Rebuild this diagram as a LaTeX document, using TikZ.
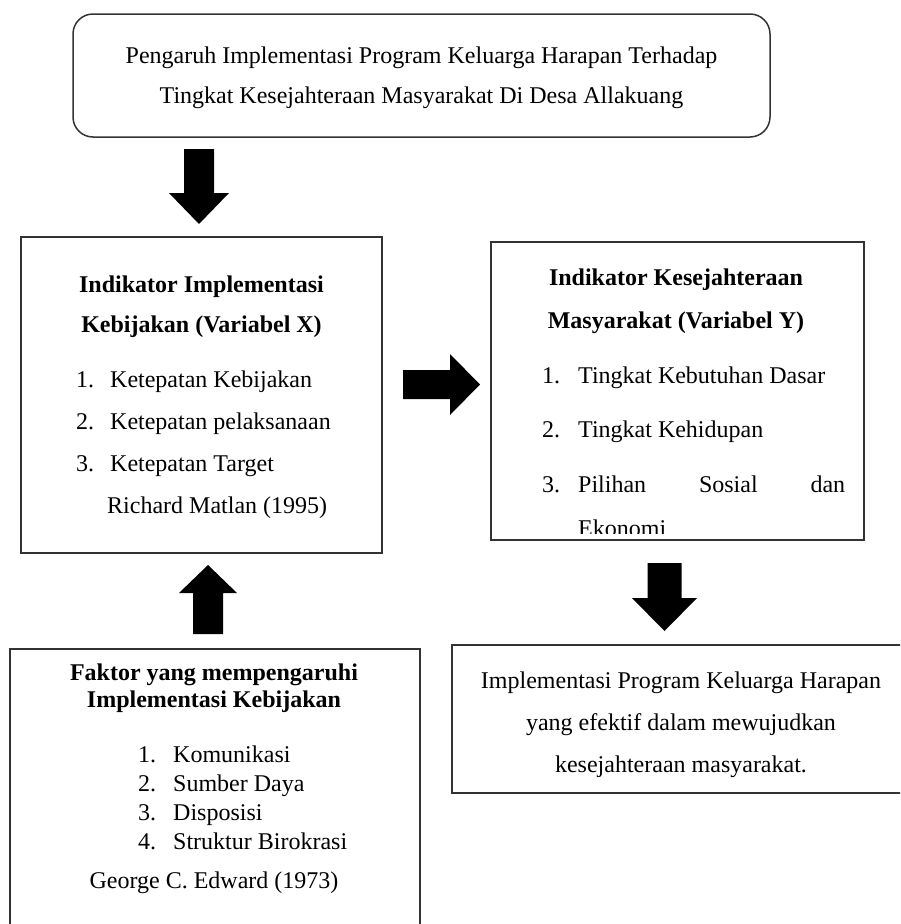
\documentclass[tikz,border=0pt]{standalone}
\usepackage{fontspec}
\setmainfont{Liberation Serif}
\usetikzlibrary{positioning}
\tikzset{
  kotak/.style={draw=black!80, line width=1.5pt, inner sep=0pt},
  teks/.style={inner sep=0pt, font=\fontsize{24}{40}\selectfont},
  judulteks/.style={teks, font=\fontsize{24}{40}\selectfont\bfseries},
  pics/blokpanah/.style args={#1/#2/#3/#4}{code={
    \fill (0,-#2) -- (#1-#4,-#2) -- (#1-#4,-#3) -- (#1,0)
      -- (#1-#4,#3) -- (#1-#4,#2) -- (0,#2) -- cycle;}},
}
\newcommand{\nomor}[1]{\makebox[34pt][l]{#1}}
\begin{document}
\begin{tikzpicture}[x=1pt,y=-1pt]
\useasboundingbox (0,0) rectangle (900,924);
\clip (0,0) rectangle (900,924);
% kotak
\node[kotak, rounded corners=20pt, minimum width=697pt, minimum height=123pt] (judul) at (421.5,75.5) {};
\node[kotak, minimum width=361pt, minimum height=316pt] (varX) at (201.5,395) {};
\node[kotak, minimum width=373pt, minimum height=298pt] (varY) at (677.5,391) {};
\node[kotak, minimum width=410pt, minimum height=311pt] (faktor) at (215,804.5) {};
\node[kotak, minimum width=458pt, minimum height=148pt] (hasil) at (681,719) {};
% judul (base = baris terakhir)
\node[teks, anchor=base, align=center] (judulT) at (421.5,103)
  {Pengaruh Implementasi Program Keluarga Harapan Terhadap\\
   Tingkat Kesejahteraan Masyarakat Di Desa Allakuang};
% variabel X
\node[judulteks, anchor=base, align=center] (varXT) at (201.5,332)
  {Indikator Implementasi\\Kebijakan (Variabel X)};
\node[teks, anchor=base west, align=left, font=\fontsize{24}{42}\selectfont] (varXL) at (76,513)
  {\nomor{1.}Ketepatan Kebijakan\\
   \nomor{2.}Ketepatan pelaksanaan\\
   \nomor{3.}Ketepatan Target\\
   \hspace*{31pt}Richard Matlan (1995)};
% variabel Y
\node[judulteks, anchor=base, align=center, font=\fontsize{24}{43}\selectfont\bfseries] (varYT) at (676,328)
  {Indikator Kesejahteraan\\Masyarakat (Variabel Y)};
\node[teks, anchor=base west, align=left, font=\fontsize{24}{54.5}\selectfont] (varYL) at (542,492)
  {\makebox[36pt][l]{1.}Tingkat Kebutuhan Dasar\\
   \makebox[36pt][l]{2.}Tingkat Kehidupan\\
   \makebox[36pt][l]{3.}\makebox[267pt][s]{Pilihan\hfill Sosial\hfill dan}};
\begin{scope}
\clip (495,500) rectangle (860,533);
\node[teks, anchor=base west] (varYE) at (578,536) {Ekonomi};
\end{scope}
% faktor
\node[judulteks, anchor=base, align=center, font=\fontsize{24}{27}\selectfont\bfseries] (faktorT) at (214,707)
  {Faktor yang mempengaruhi\\Implementasi Kebijakan};
\node[teks, anchor=base west, align=left, font=\fontsize{24}{28.7}\selectfont] (faktorL) at (138,849)
  {\makebox[35pt][l]{1.}Komunikasi\\
   \makebox[35pt][l]{2.}Sumber Daya\\
   \makebox[35pt][l]{3.}Disposisi\\
   \makebox[35pt][l]{4.}Struktur Birokrasi};
\node[teks, anchor=base] (faktorS) at (214,888) {George C. Edward (1973)};
% hasil
\node[teks, anchor=base, align=center, font=\fontsize{24}{42}\selectfont] (hasilT) at (681,772)
  {Implementasi Program Keluarga Harapan\\
   yang efektif dalam mewujudkan\\
   kesejahteraan masyarakat.};
% panah
\pic[rotate=-90] at (199,149) {blokpanah=75/15/30/31};
\pic at (403,384.5) {blokpanah=77/14.5/30.5/30};
\pic[rotate=90] at (208,634) {blokpanah=69/15/29/28};
\pic[rotate=-90] at (664.5,563) {blokpanah=68/17/32.5/33};
\end{tikzpicture}
\end{document}
